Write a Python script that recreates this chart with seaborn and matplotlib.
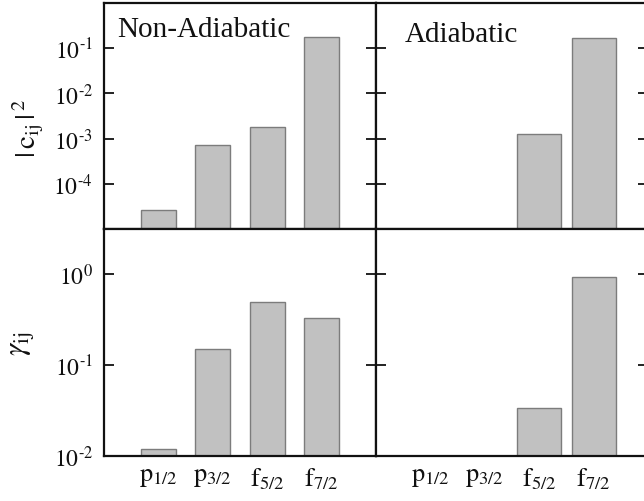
import numpy as np
import pandas as pd
import matplotlib
matplotlib.use("Agg")
import matplotlib.pyplot as plt
import seaborn as sns
from matplotlib.ticker import FixedLocator, FixedFormatter, NullLocator

# Orbital channels and their tick labels
orbitals = ["p1/2", "p3/2", "f5/2", "f7/2"]
orbital_labels = [r"$\mathrm{p}_{1/2}$", r"$\mathrm{p}_{3/2}$",
                  r"$\mathrm{f}_{5/2}$", r"$\mathrm{f}_{7/2}$"]

# Spectroscopic weights |c_ij|^2
weight_nonadiabatic = [2.6e-5, 7.3e-4, 1.85e-3, 0.176]
weight_adiabatic = [np.nan, np.nan, 1.29e-3, 0.164]
weight_ticks = [1e-4, 1e-3, 1e-2, 1e-1]
weight_tick_labels = [r"$10^{\text{-}4}$", r"$10^{\text{-}3}$",
                      r"$10^{\text{-}2}$", r"$10^{\text{-}1}$"]

# Reduced widths gamma_ij
gamma_nonadiabatic = [0.0119, 0.150, 0.499, 0.335]
gamma_adiabatic = [np.nan, np.nan, 0.0338, 0.933]
gamma_ticks = [1e-2, 1e-1, 1e0]
gamma_tick_labels = [r"$10^{\text{-}2}$", r"$10^{\text{-}1}$", r"$10^{0}$"]

panel_titles = ["Non-Adiabatic", "Adiabatic"]

sns.set_theme(style="ticks")
plt.rcParams["font.family"] = ["Liberation Serif", "DejaVu Serif"]
plt.rcParams["mathtext.fontset"] = "stix"

fig = plt.figure(figsize=(6.44, 5.02), dpi=100)
W, H = 644.0, 502.0

def axes_px(x0, x1, y0, y1):
    return fig.add_axes([x0 / W, 1 - y1 / H, (x1 - x0) / W, (y1 - y0) / H])

ax_tl = axes_px(104, 376, 4, 230)
ax_tr = axes_px(376, 648, 4, 230)
ax_bl = axes_px(104, 376, 230, 457)
ax_br = axes_px(376, 648, 230, 457)

bar_face = "#c1c1c1"
bar_edge = "#7c7c7c"
ink = "#111111"

panels = [
    (ax_tl, weight_nonadiabatic, 0.64, (1e-5, 1.0), weight_ticks, weight_tick_labels),
    (ax_tr, weight_adiabatic, 0.81, (1e-5, 1.0), weight_ticks, weight_tick_labels),
    (ax_bl, gamma_nonadiabatic, 0.64, (1e-2, 10 ** 0.5), gamma_ticks, gamma_tick_labels),
    (ax_br, gamma_adiabatic, 0.81, (1e-2, 10 ** 0.5), gamma_ticks, gamma_tick_labels),
]

for ax, values, width, ylim, yticks, ylabels in panels:
    ax.set_yscale("log")
    df = pd.DataFrame({"orbital": orbitals, "value": values}).dropna()
    sns.barplot(data=df, x="orbital", y="value", order=orbitals, ax=ax,
                width=width, color=bar_face, saturation=1,
                edgecolor=bar_edge, linewidth=1.0)
    ax.set_xlim(-1.0, 4.0)
    ax.set_ylim(*ylim)
    ax.yaxis.set_major_locator(FixedLocator(yticks))
    ax.yaxis.set_major_formatter(FixedFormatter(ylabels))
    ax.yaxis.set_minor_locator(NullLocator())
    ax.set_xlabel("")
    ax.set_ylabel("")
    for sp in ax.spines.values():
        sp.set_visible(True)
        sp.set_linewidth(1.6)
        sp.set_color(ink)
    ax.tick_params(axis="y", which="major", direction="in", length=7, width=1.3,
                   left=True, right=True, color=ink, labelsize=17,
                   labelcolor=ink, pad=8)
    ax.tick_params(axis="x", length=0, labelsize=19, labelcolor=ink, pad=7)
    ax.set_facecolor("white")

for ax in (ax_tl, ax_tr):
    ax.set_xticklabels([])
for ax in (ax_tr, ax_br):
    ax.set_yticklabels([])
for ax in (ax_bl, ax_br):
    ax.set_xticks(range(len(orbitals)))
    ax.set_xticklabels(orbital_labels)

ax_tl.text(0.048, 0.855, panel_titles[0], transform=ax_tl.transAxes,
           fontsize=21, color=ink)
ax_tr.text(0.104, 0.833, panel_titles[1], transform=ax_tr.transAxes,
           fontsize=21, color=ink)

ax_tl.set_ylabel(r"$|\,\mathrm{c}_{\mathrm{ij}}\,|^{\,2}$", fontsize=21, color=ink)
ax_tl.yaxis.set_label_coords(-0.215, 0.45)
ax_bl.set_ylabel(r"$\gamma_{\mathrm{ij}}$", fontsize=22, color=ink)
ax_bl.yaxis.set_label_coords(-0.245, 0.5)

fig.savefig("out.png", dpi=100, facecolor="white")
